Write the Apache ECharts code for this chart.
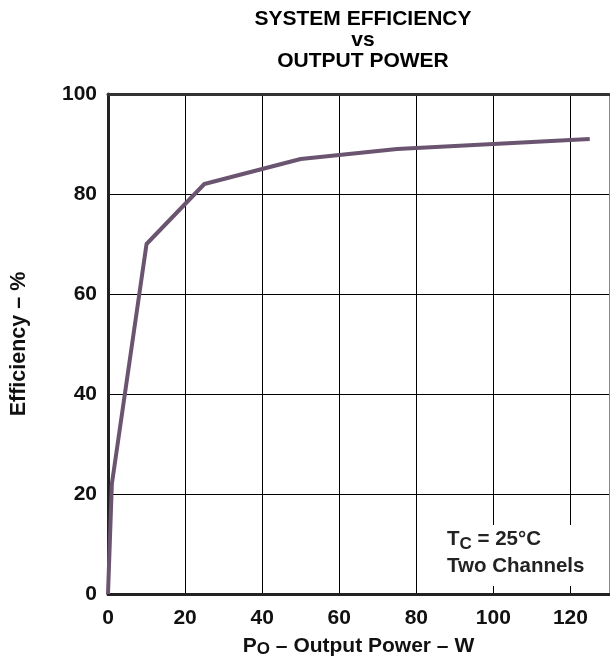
<!DOCTYPE html>
<html>
<head>
<meta charset="utf-8">
<script src="https://cdn.jsdelivr.net/npm/echarts@6/dist/echarts.min.js"></script>
<style>
html,body{margin:0;padding:0;background:#fff;}
#chart{width:610px;height:665px;}
</style>
</head>
<body>
<div id="chart"></div>
<script>
const titleLines = ['SYSTEM EFFICIENCY', 'vs', 'OUTPUT POWER'];
const outputPower = [0, 1, 10, 25, 50, 75, 100, 125];
const efficiency = [0, 22, 70, 82, 87, 89, 90, 91];
const xTicks = [0, 20, 40, 60, 80, 100, 120];
const yTicks = [0, 20, 40, 60, 80, 100];

const FONT = '"Liberation Sans", Arial, sans-serif';
const chart = echarts.init(document.getElementById('chart'), null, {renderer: 'canvas'});

const labelStyle = {fontFamily: FONT, fontWeight: 'bold', fontSize: 21, color: '#111'};

chart.setOption({
  animation: false,
  backgroundColor: '#fff',
  title: {
    text: titleLines.join('\n'),
    left: 358, top: 4, textAlign: 'center',
    textStyle: {fontFamily: FONT, fontWeight: 'bold', fontSize: 21, lineHeight: 21, color: '#000'}
  },
  grid: {left: 108, top: 94, right: 1, bottom: 71, show: false},
  xAxis: [{
    type: 'value', min: 0, max: 130, interval: 20,
    position: 'bottom',
    axisLine: {show: true, onZero: false, lineStyle: {color: '#222', width: 3}},
    axisTick: {show: false},
    axisLabel: Object.assign({margin: 14, showMaxLabel: false,
      formatter: v => xTicks.indexOf(v) >= 0 ? String(v) : ''}, labelStyle),
    splitLine: {show: true, showMinLine: false, showMaxLine: false, lineStyle: {color: '#000', width: 1}},
    name: '{t|P}{s|O}{t| – Output Power – W}',
    nameLocation: 'middle', nameGap: 40,
    nameTextStyle: {
      rich: {
        t: {fontFamily: FONT, fontWeight: 'bold', fontSize: 21, lineHeight: 24, color: '#111'},
        s: {fontFamily: FONT, fontWeight: 'bold', fontSize: 17, lineHeight: 12, verticalAlign: 'bottom', color: '#111'}
      }
    }
  }, {
    type: 'value', min: 0, max: 130, position: 'top',
    axisLine: {show: true, onZero: false, lineStyle: {color: '#333', width: 3}},
    axisTick: {show: false}, axisLabel: {show: false}, splitLine: {show: false}
  }],
  yAxis: [{
    type: 'value', min: 0, max: 100, interval: 20,
    position: 'left',
    axisLine: {show: true, onZero: false, lineStyle: {color: '#222', width: 3}},
    axisTick: {show: false},
    axisLabel: Object.assign({margin: 11,
      formatter: v => yTicks.indexOf(v) >= 0 ? String(v) : ''}, labelStyle),
    splitLine: {show: true, showMinLine: false, showMaxLine: false, lineStyle: {color: '#000', width: 1}},
    name: 'Efficiency – %',
    nameLocation: 'middle', nameGap: 78, nameRotate: 90,
    nameTextStyle: {fontFamily: FONT, fontWeight: 'bold', fontSize: 21.5, color: '#111'}
  }, {
    type: 'value', min: 0, max: 100, position: 'right',
    axisLine: {show: true, onZero: false, lineStyle: {color: '#888', width: 1}},
    axisTick: {show: false}, axisLabel: {show: false}, splitLine: {show: false}
  }],
  graphic: [{
    type: 'rect', z: 50,
    shape: {x: 440, y: 525, width: 166, height: 61},
    style: {fill: '#fff'}
  }, {
    type: 'text', z: 51, left: 447, top: 529,
    style: {
      text: '{t|T}{s|C}{t| = 25°C}\n{t|Two Channels}',
      rich: {
        t: {fontFamily: FONT, fontWeight: 'bold', fontSize: 20.5, lineHeight: 27, fill: '#222'},
        s: {fontFamily: FONT, fontWeight: 'bold', fontSize: 17, lineHeight: 12, verticalAlign: 'bottom', fill: '#222'}
      }
    }
  }],
  series: [{
    type: 'line',
    data: outputPower.map((p, i) => [p, efficiency[i]]),
    symbol: 'none',
    lineStyle: {color: '#6b5470', width: 4},
    z: 10
  }]
});
</script>
</body>
</html>
